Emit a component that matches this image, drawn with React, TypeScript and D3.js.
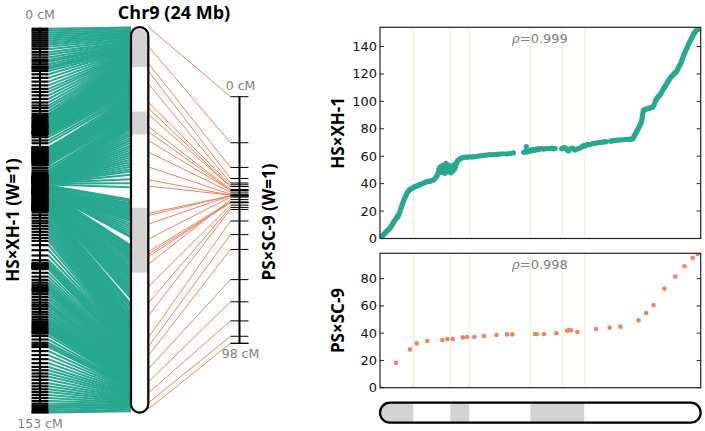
import React from "react";
import * as d3 from "d3";

const TEAL = "#27a88f";
const ORANGE = "#ee8462";
const BAND = "#d3d3d3";
const GRID = "#f1eccb";

const chrName = "Chr9 (24 Mb)";
const chrLengthMb = 24;
const hsxhName = "HS×XH-1";
const psscName = "PS×SC-9";
const hsxhLengthCm = 153;
const psscLengthCm = 98;
const rhoTop = "0.999";
const rhoBottom = "0.998";

const bandsMb: [number, number][] = [
  [0, 2.49],
  [5.26, 6.68],
  [11.25, 15.29],
];
const gridMb = [2.49, 5.26, 6.68, 11.25, 13.67, 15.29];
const topYTicks = [0, 20, 40, 60, 80, 100, 120, 140];
const bottomYTicks = [0, 20, 40, 60, 80];

// HS×XH-1 markers: [physical position (Mb), map position (cM)]
const hsxhMarkers: [number, number][] = [
  [0.03, 0.5], [0.1, 1.2], [0.18, 2.0], [0.26, 2.8], [0.34, 3.6], [0.42, 4.4], [0.5, 5.2], [0.58, 6.0],
  [0.66, 6.8], [0.74, 7.6], [0.82, 8.6], [0.9, 9.8], [0.96, 10.8], [1.02, 11.9], [1.08, 12.9], [1.14, 13.6],
  [1.2, 14.6], [1.26, 15.5], [1.3, 16.4], [1.35, 15.9], [1.4, 17.3], [1.45, 18.6], [1.5, 20.0], [1.55, 21.5],
  [1.6, 23.0], [1.65, 24.4], [1.7, 25.6], [1.75, 27.0], [1.8, 28.4], [1.86, 29.8], [1.92, 31.0], [1.98, 32.0],
  [2.04, 33.2], [2.1, 34.3], [2.16, 35.0], [2.22, 35.6],
  [2.3, 36.1], [2.4, 36.6], [2.5, 37.2], [2.6, 37.8], [2.7, 38.2], [2.8, 38.6], [2.9, 39.0], [3.0, 39.4],
  [3.1, 39.7], [3.2, 40.1], [3.3, 40.6], [3.4, 41.1], [3.5, 41.4], [3.6, 41.6], [3.7, 41.8], [3.8, 42.0],
  [3.9, 42.3], [4.0, 42.7], [4.1, 43.6], [4.2, 44.9], [4.28, 46.0],
  [4.35, 47.8], [4.4, 50.5], [4.45, 49.0], [4.5, 52.3], [4.55, 50.0], [4.6, 48.2], [4.65, 51.4], [4.7, 53.6],
  [4.75, 49.6], [4.8, 51.0], [4.85, 47.5], [4.9, 52.5], [4.95, 54.8], [5.0, 50.4], [5.05, 48.8], [5.1, 51.9],
  [5.15, 53.4], [5.2, 49.8], [5.25, 51.2], [5.3, 47.9], [5.35, 52.8], [5.4, 50.6], [5.45, 49.2], [5.5, 51.8],
  [5.55, 53.9], [5.6, 50.9], [5.65, 52.6], [5.7, 54.5], [5.76, 55.8],
  [5.82, 56.8], [5.9, 57.6], [6.0, 58.2], [6.1, 58.7], [6.2, 59.0], [6.3, 59.2], [6.45, 59.3], [6.6, 59.4],
  [6.75, 59.6], [6.9, 59.5], [7.05, 59.7], [7.2, 59.9], [7.35, 60.1], [7.5, 60.3], [7.65, 60.5], [7.8, 60.7],
  [7.95, 60.9], [8.1, 61.0], [8.25, 61.1], [8.4, 61.0], [8.55, 61.2], [8.7, 61.3], [8.85, 61.5], [9.0, 61.6],
  [9.2, 61.8], [9.48, 61.7], [9.73, 62.0], [9.98, 62.4],
  [10.75, 62.8], [10.85, 63.4], [10.95, 67.0], [11.0, 63.0], [11.1, 64.0], [11.2, 63.6], [11.3, 64.4], [11.4, 64.8],
  [11.5, 64.2], [11.6, 65.0], [11.7, 64.6], [11.8, 65.3], [11.9, 65.0], [12.0, 65.4], [12.1, 65.6], [12.25, 65.2],
  [12.4, 65.5], [12.55, 65.8], [12.7, 65.6], [12.85, 65.9], [13.0, 65.4], [13.1, 65.7],
  [13.6, 65.5], [13.7, 66.0], [13.8, 66.4], [13.9, 65.8], [14.0, 64.8], [14.1, 63.8], [14.2, 65.2], [14.3, 65.5],
  [14.4, 66.0], [14.5, 65.2], [14.6, 64.5], [14.75, 65.4], [14.9, 65.8],
  [15.05, 66.5], [15.15, 67.2], [15.25, 67.8], [15.35, 67.5], [15.45, 68.2], [15.55, 68.6], [15.7, 68.4], [15.85, 69.0],
  [16.0, 69.3], [16.15, 69.6], [16.3, 69.8], [16.45, 70.0], [16.6, 70.2], [16.75, 70.4], [16.9, 70.6],
  [17.25, 71.0], [17.35, 71.1], [17.45, 71.3], [17.55, 71.5], [17.75, 71.7], [17.85, 71.8], [17.95, 71.8], [18.15, 72.0],
  [18.25, 72.1], [18.35, 72.2], [18.45, 72.2], [18.55, 72.3], [18.65, 72.3], [18.75, 72.4], [18.85, 72.5],
  [18.9, 72.8], [18.96, 73.5], [19.02, 74.6], [19.08, 75.7], [19.14, 76.8], [19.2, 77.8], [19.26, 78.9], [19.32, 80.0],
  [19.38, 81.2], [19.44, 82.4], [19.5, 83.6], [19.56, 84.8], [19.6, 86.5], [19.63, 88.5], [19.66, 90.6], [19.69, 92.5],
  [19.73, 93.6], [19.8, 93.9], [19.88, 94.2], [19.96, 94.6], [20.04, 94.8], [20.12, 95.0], [20.2, 95.2], [20.28, 95.4],
  [20.36, 95.6], [20.42, 96.0],
  [20.5, 97.5], [20.56, 99.0], [20.62, 100.3], [20.68, 101.4], [20.74, 102.4], [20.8, 103.2], [20.86, 103.9], [20.92, 104.3],
  [20.98, 105.0], [21.04, 106.0], [21.1, 107.1], [21.16, 108.2], [21.22, 109.3], [21.28, 110.2], [21.34, 110.9], [21.4, 111.9],
  [21.46, 113.0], [21.52, 114.0], [21.58, 115.0], [21.64, 116.0], [21.7, 116.8], [21.76, 117.5], [21.82, 118.2], [21.88, 118.8],
  [21.94, 119.4], [22.0, 120.0], [22.06, 120.6], [22.12, 121.1], [22.18, 121.6], [22.24, 122.6], [22.3, 124.0], [22.36, 125.3],
  [22.42, 126.2], [22.48, 127.0], [22.54, 128.6], [22.6, 130.2], [22.66, 131.8], [22.72, 133.4], [22.78, 134.9], [22.84, 136.2],
  [22.9, 137.5], [22.96, 138.7], [23.02, 140.0], [23.08, 141.4], [23.14, 142.6], [23.2, 143.8], [23.26, 144.9], [23.32, 146.0],
  [23.38, 147.2], [23.44, 148.4], [23.5, 149.5], [23.56, 150.4], [23.62, 151.2], [23.7, 152.0], [23.8, 152.8], [23.92, 153.0],
];

// PS×SC-9 markers: [physical position (Mb), map position (cM)]
const psscMarkers: [number, number][] = [
  [0.0, 0.0], [1.2, 18.3], [2.25, 28.1], [2.74, 32.5], [3.54, 34.3], [4.67, 35.0], [5.04, 35.7], [5.44, 35.7],
  [6.19, 36.9], [6.51, 37.2], [7.06, 37.2], [7.78, 37.9], [8.71, 38.7], [9.51, 39.1], [9.9, 39.1], [11.6, 39.4],
  [11.73, 39.4], [12.27, 39.4], [13.2, 39.9], [14.0, 41.8], [14.15, 42.1], [14.3, 42.1], [14.77, 40.9], [16.17, 43.1],
  [17.19, 44.0], [17.99, 44.8], [19.34, 49.4], [19.91, 54.8], [20.46, 60.7], [21.28, 72.7], [22.1, 81.5], [22.78, 89.1],
  [23.4, 95.2], [23.78, 98.0],
];

// ---------- layout ----------
const W = 705;
const H = 431;

const leftMapX = 40;
const leftTickHalf = 8.5;
const vChr = { x: 131, w: 17.3, top: 27, bottom: 412.6 };
const rightMapX = 239.5;
const rightTickHalf = 9;

const plotX0 = 380;
const plotX1 = 700.7;
const topPlot = { top: 27.3, bottom: 238.5, max: 154 };
const botPlot = { top: 253.3, bottom: 387.7, max: 98.6 };
const hChr = { top: 402.7, bottom: 422.7 };

const yLeftMap = d3.scaleLinear().domain([0, hsxhLengthCm]).range([27.5, 412.5]);
const yVChr = d3.scaleLinear().domain([0, chrLengthMb]).range([vChr.top, vChr.bottom]);
const yRightMap = d3.scaleLinear().domain([0, psscLengthCm]).range([96.7, 343.3]);

const xPlot = d3.scaleLinear().domain([0, chrLengthMb]).range([plotX0, plotX1]);
const yTop = d3.scaleLinear().domain([0, topPlot.max]).range([topPlot.bottom, topPlot.top]);
const yBot = d3.scaleLinear().domain([0, botPlot.max]).range([botPlot.bottom, botPlot.top]);

const boldFont = "'Open Sans', 'DejaVu Sans', sans-serif";
const tickFont = "'DejaVu Sans', sans-serif";

function ScatterPanel({
  id,
  y,
  top,
  bottom,
  ticks,
  data,
  color,
  r,
  rho,
  label,
}: {
  id: string;
  y: d3.ScaleLinear<number, number>;
  top: number;
  bottom: number;
  ticks: number[];
  data: [number, number][];
  color: string;
  r: number;
  rho: string;
  label: string;
}) {
  return (
    <g>
      <defs>
        <clipPath id={id}>
          <rect x={plotX0} y={top} width={plotX1 - plotX0} height={bottom - top} />
        </clipPath>
      </defs>
      {gridMb.map((m, i) => (
        <line key={i} x1={xPlot(m)} x2={xPlot(m)} y1={top} y2={bottom} stroke={GRID} strokeWidth={1} />
      ))}
      <g clipPath={`url(#${id})`}>
        {data.map(([mb, cm], i) => (
          <circle key={i} cx={xPlot(mb)} cy={y(cm)} r={r} fill={color} />
        ))}
      </g>
      <rect x={plotX0} y={top} width={plotX1 - plotX0} height={bottom - top} fill="none" stroke="#222" strokeWidth={1.2} />
      {ticks.map((t) => (
        <g key={t}>
          <line x1={plotX0} x2={plotX0 + 4} y1={y(t)} y2={y(t)} stroke="#222" strokeWidth={1} />
          <line x1={plotX1 - 4} x2={plotX1} y1={y(t)} y2={y(t)} stroke="#222" strokeWidth={1} />
          <text x={plotX0 - 3} y={y(t) + 4.5} textAnchor="end" fontFamily={tickFont} fontSize={13} fill="#111">
            {t}
          </text>
        </g>
      ))}
      <text x={540} y={top + 16} textAnchor="middle" fontFamily={tickFont} fontSize={13} fill="#808080">
        <tspan fontFamily="'DejaVu Serif', serif" fontStyle="italic">ρ</tspan>=
        {rho}
      </text>
      <text
        transform={`translate(344,${(top + bottom) / 2}) rotate(-90)`}
        textAnchor="middle"
        fontFamily={boldFont}
        fontWeight="bold"
        fontSize={17}
        fill="#000"
      >
        {label}
      </text>
    </g>
  );
}

export default function App() {
  const vw = vChr.w;
  return (
    <svg
      width={W}
      height={H}
      viewBox={`0 0 ${W} ${H}`}
      style={{ position: "absolute", left: 0, top: 0, background: "#fff" }}
    >
      <defs>
        <clipPath id="vchr">
          <rect x={vChr.x} y={vChr.top} width={vw} height={vChr.bottom - vChr.top} rx={vw / 2} ry={vw / 2} />
        </clipPath>
        <clipPath id="hchr">
          <rect x={plotX0} y={hChr.top} width={plotX1 - plotX0} height={hChr.bottom - hChr.top} rx={10} ry={10} />
        </clipPath>
      </defs>
      <rect x={0} y={0} width={W} height={H} fill="#fff" />

      {/* teal connecting lines */}
      {hsxhMarkers.map(([mb, cm], i) => (
        <line
          key={i}
          x1={leftMapX + leftTickHalf}
          y1={yLeftMap(cm)}
          x2={vChr.x}
          y2={yVChr(mb)}
          stroke={TEAL}
          strokeWidth={2}
        />
      ))}
      {/* left map */}
      <line x1={leftMapX} x2={leftMapX} y1={yLeftMap(0)} y2={yLeftMap(hsxhLengthCm)} stroke="#000" strokeWidth={2} />
      {hsxhMarkers.map(([, cm], i) => (
        <line
          key={i}
          x1={leftMapX - leftTickHalf}
          x2={leftMapX + leftTickHalf}
          y1={yLeftMap(cm)}
          y2={yLeftMap(cm)}
          stroke="#000"
          strokeWidth={2.2}
        />
      ))}
      <text x={leftMapX} y={19} textAnchor="middle" fontFamily={tickFont} fontSize={12.5} fill="#808080">
        0 cM
      </text>
      <text x={leftMapX} y={428} textAnchor="middle" fontFamily={tickFont} fontSize={12.5} fill="#808080">
        {hsxhLengthCm} cM
      </text>
      <text
        transform={`translate(19,220) rotate(-90)`}
        textAnchor="middle"
        fontFamily={boldFont}
        fontWeight="bold"
        fontSize={17}
        fill="#000"
      >
        {hsxhName} (W=1)
      </text>

      {/* orange connecting lines */}
      {psscMarkers.map(([mb, cm], i) => (
        <line
          key={i}
          x1={vChr.x + vw}
          y1={yVChr(mb)}
          x2={rightMapX - rightTickHalf}
          y2={yRightMap(cm)}
          stroke={ORANGE}
          strokeWidth={1}
        />
      ))}
      {/* right map */}
      <line x1={rightMapX} x2={rightMapX} y1={yRightMap(0)} y2={yRightMap(psscLengthCm)} stroke="#000" strokeWidth={2} />
      {psscMarkers.map(([, cm], i) => (
        <line
          key={i}
          x1={rightMapX - rightTickHalf}
          x2={rightMapX + rightTickHalf}
          y1={yRightMap(cm)}
          y2={yRightMap(cm)}
          stroke="#000"
          strokeWidth={1}
        />
      ))}
      <line
        x1={rightMapX - rightTickHalf}
        x2={rightMapX + rightTickHalf}
        y1={yRightMap(psscLengthCm)}
        y2={yRightMap(psscLengthCm)}
        stroke="#000"
        strokeWidth={1}
      />
      <text x={rightMapX + 1} y={90} textAnchor="middle" fontFamily={tickFont} fontSize={12.5} fill="#808080">
        0 cM
      </text>
      <text x={rightMapX + 1} y={358} textAnchor="middle" fontFamily={tickFont} fontSize={12.5} fill="#808080">
        {psscLengthCm} cM
      </text>
      <text
        transform={`translate(275,222) rotate(-90)`}
        textAnchor="middle"
        fontFamily={boldFont}
        fontWeight="bold"
        fontSize={17}
        fill="#000"
      >
        {psscName} (W=1)
      </text>

      {/* vertical chromosome */}
      <g clipPath="url(#vchr)">
        <rect x={vChr.x} y={vChr.top} width={vw} height={vChr.bottom - vChr.top} fill="#fff" />
        {bandsMb.map(([a, b], i) => (
          <rect key={i} x={vChr.x} y={yVChr(a) - (a === 0 ? 10 : 0)} width={vw} height={yVChr(b) - yVChr(a) + (a === 0 ? 10 : 0)} fill={BAND} />
        ))}
      </g>
      <rect
        x={vChr.x}
        y={vChr.top}
        width={vw}
        height={vChr.bottom - vChr.top}
        rx={vw / 2}
        ry={vw / 2}
        fill="none"
        stroke="#000"
        strokeWidth={2.2}
      />
      <text
        x={174}
        y={19}
        textAnchor="middle"
        fontFamily={boldFont}
        fontWeight="bold"
        fontSize={18}
        fill="#000"
      >
        {chrName}
      </text>

      {/* scatter panels */}
      <ScatterPanel
        id="topclip"
        y={yTop}
        top={topPlot.top}
        bottom={topPlot.bottom}
        ticks={topYTicks}
        data={hsxhMarkers}
        color={TEAL}
        r={2.6}
        rho={rhoTop}
        label={hsxhName}
      />
      <ScatterPanel
        id="botclip"
        y={yBot}
        top={botPlot.top}
        bottom={botPlot.bottom}
        ticks={bottomYTicks}
        data={psscMarkers}
        color={ORANGE}
        r={2.3}
        rho={rhoBottom}
        label={psscName}
      />

      {/* horizontal chromosome */}
      <g clipPath="url(#hchr)">
        <rect x={plotX0} y={hChr.top} width={plotX1 - plotX0} height={hChr.bottom - hChr.top} fill="#fff" />
        {bandsMb.map(([a, b], i) => (
          <rect
            key={i}
            x={xPlot(a) - (a === 0 ? 10 : 0)}
            y={hChr.top}
            width={xPlot(b) - xPlot(a) + (a === 0 ? 10 : 0)}
            height={hChr.bottom - hChr.top}
            fill={BAND}
          />
        ))}
      </g>
      <rect
        x={plotX0}
        y={hChr.top}
        width={plotX1 - plotX0}
        height={hChr.bottom - hChr.top}
        rx={10}
        ry={10}
        fill="none"
        stroke="#000"
        strokeWidth={2.2}
      />
    </svg>
  );
}
